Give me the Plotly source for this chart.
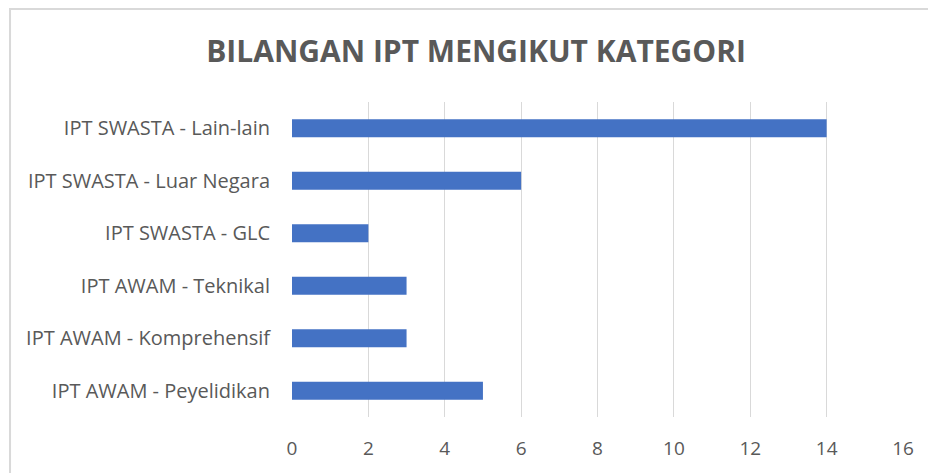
import plotly.graph_objects as go

categories = [
  'IPT AWAM - Peyelidikan',
  'IPT AWAM - Komprehensif',
  'IPT AWAM - Teknikal',
  'IPT SWASTA - GLC',
  'IPT SWASTA - Luar Negara',
  'IPT SWASTA - Lain-lain',
]
counts = [5, 3, 3, 2, 6, 14]
x_ticks = [0, 2, 4, 6, 8, 10, 12, 14, 16]

text_color = 'rgb(89,89,89)'
grid_color = 'rgb(217,217,217)'
font_family = 'Open Sans, sans-serif'

fig = go.Figure(
  layout=go.Layout(
    title=go.layout.Title(
      text='<b>BILANGAN IPT MENGIKUT KATEGORI</b>',
      x=0.513, xanchor='center', xref='container',
      y=0.892, yanchor='middle', yref='container',
      font=dict(size=30, color=text_color, family=font_family)
    ),
    plot_bgcolor='rgb(255,255,255)',
    paper_bgcolor='rgb(255,255,255)',
    width=928,
    height=473,
    showlegend=False,
    bargap=0.66,
    xaxis=go.layout.XAxis(
      range=[0, 16],
      tickvals=x_ticks,
      showgrid=True,
      gridwidth=1,
      gridcolor=grid_color,
      zeroline=False,
      showline=False,
      ticks='',
      ticklabelstandoff=18,
      tickfont=dict(size=19, color=text_color, family=font_family)
    ),
    yaxis=go.layout.YAxis(
      showgrid=False,
      zeroline=False,
      showline=False,
      ticks='',
      ticklabelstandoff=21,
      tickfont=dict(size=20, color=text_color, family=font_family)
    ),
    margin={'l': 292, 'r': 25, 't': 102, 'b': 56, 'pad': 0}
  )
)

fig.add_trace(go.Bar(
  x=counts,
  y=categories,
  orientation='h',
  marker_color='rgb(68,114,196)',
  marker_line_width=0
))

# light frame around the chart area, cut off at right and bottom like the screenshot
fig.add_shape(
  type='rect', xref='paper', yref='paper',
  x0=-0.4615, x1=1.06, y0=-0.25, y1=1.2952,
  line=dict(color=grid_color, width=2),
  layer='below'
)

fig.write_html(
  'out.html',
  config={'displayModeBar': False},
  post_script="document.body.style.margin='0';"
)
